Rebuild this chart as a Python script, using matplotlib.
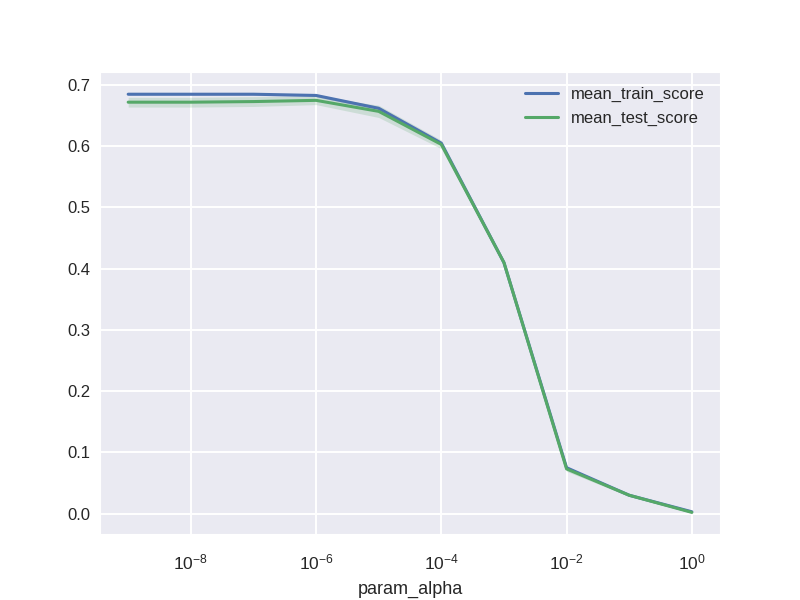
import numpy as np
import matplotlib
matplotlib.use("Agg")
import matplotlib.pyplot as plt
import seaborn as sns

# grid search results
param_alpha = [1e-9, 1e-8, 1e-7, 1e-6, 1e-5, 1e-4, 1e-3, 1e-2, 1e-1, 1e0]
mean_train_score = [0.685, 0.685, 0.685, 0.683, 0.662, 0.605, 0.410, 0.075, 0.030, 0.003]
std_train_score = [0.002, 0.002, 0.002, 0.002, 0.003, 0.003, 0.002, 0.002, 0.001, 0.001]
mean_test_score = [0.672, 0.672, 0.673, 0.675, 0.657, 0.603, 0.410, 0.073, 0.030, 0.002]
std_test_score = [0.008, 0.008, 0.008, 0.007, 0.010, 0.007, 0.004, 0.004, 0.002, 0.001]
xticks = [1e-8, 1e-6, 1e-4, 1e-2, 1e0]

sns.set_style("darkgrid")
plt.rcParams['font.family'] = ['Liberation Sans', 'DejaVu Sans']
plt.rcParams['mathtext.fontset'] = 'custom'
plt.rcParams['mathtext.rm'] = 'Liberation Sans'
plt.rcParams['mathtext.it'] = 'Liberation Sans'
plt.rcParams['grid.linewidth'] = 1.4

fig, ax = plt.subplots(figsize=(8, 6), dpi=100)

x = np.array(param_alpha)
for name, mean, std, color in [("mean_train_score", mean_train_score, std_train_score, "#4C72B0"),
                               ("mean_test_score", mean_test_score, std_test_score, "#55A868")]:
    mean = np.array(mean)
    std = np.array(std)
    ax.plot(x, mean, color=color, lw=2.2, label=name)
    ax.fill_between(x, mean - std, mean + std, color=color, alpha=0.2, lw=0)

ax.set_xscale("log")
ax.set_xticks(xticks)
ax.minorticks_off()
ax.set_xlabel("param_alpha", fontsize=13, labelpad=6)
ax.tick_params(axis="x", labelsize=12.5, pad=10)
ax.tick_params(axis="y", labelsize=12)
ax.legend(loc="upper right", frameon=False, fontsize=12)

fig.savefig("out.png", dpi=100)
